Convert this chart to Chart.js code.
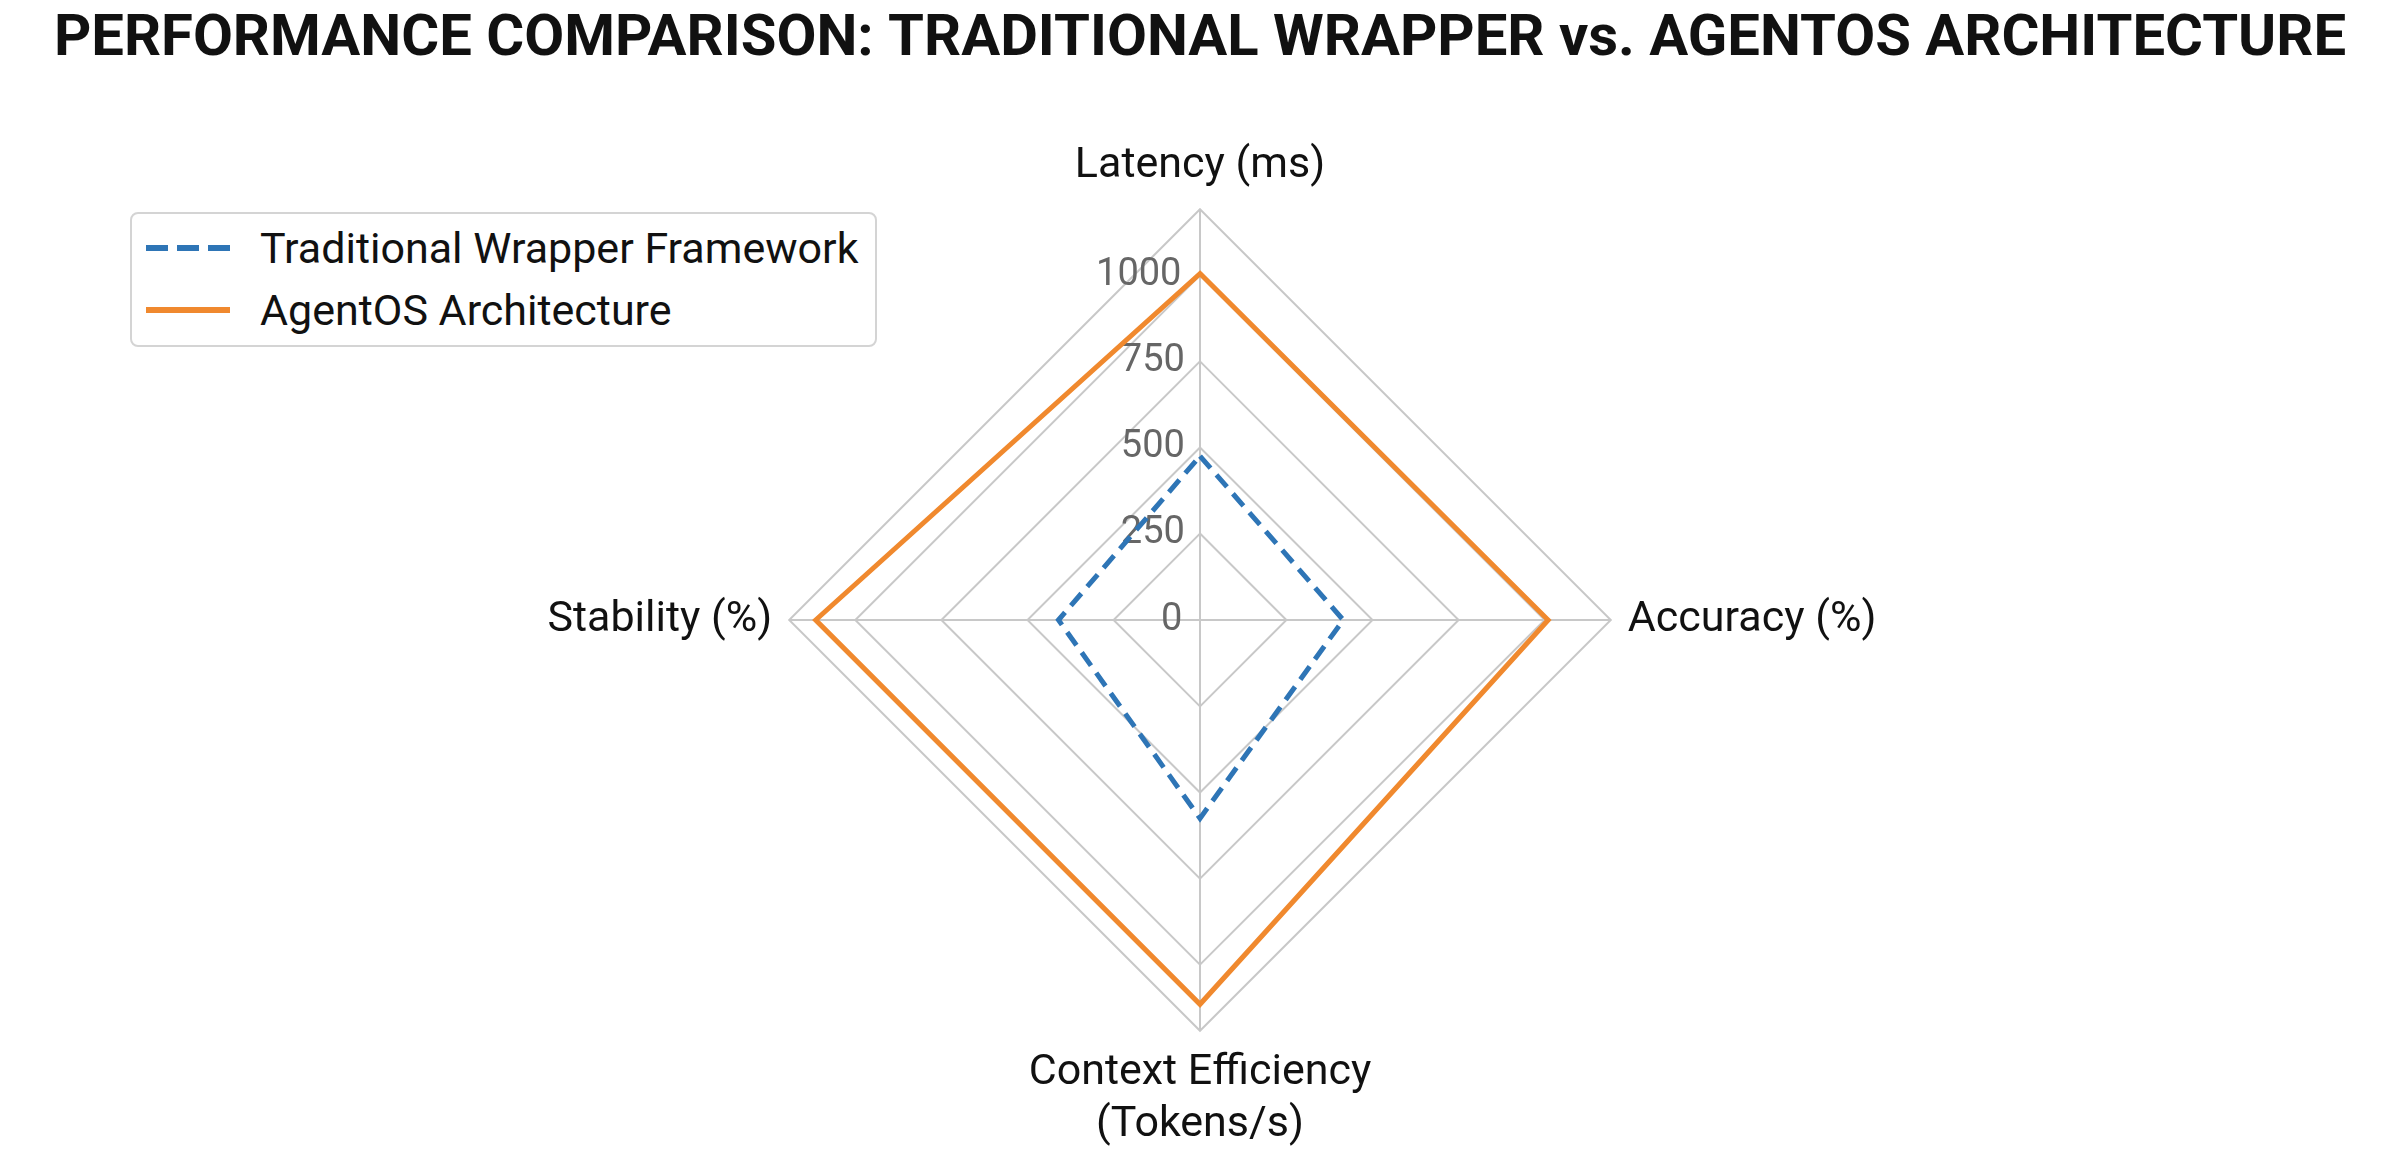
<!DOCTYPE html>
<html lang="en">
<head>
  <meta charset="UTF-8">
  <title>Performance Comparison</title>
  <script src="https://cdn.jsdelivr.net/npm/chart.js"></script>
  <style>
    html, body {
      margin: 0;
      overflow: hidden;
      background: white;
      font-family: 'Roboto', sans-serif;
    }
    /* a little taller than the window so the radar gets the radius it needs */
    .wrap {
      position: relative;
      width: 2406px;
      height: 1177px;
    }
    .legend {
      position: absolute;
      left: 130px;
      top: 212px;
      width: 747px;
      height: 135px;
      border: 2px solid #d4d4d4;
      border-radius: 8px;
      background: white;
      box-sizing: border-box;
    }
    .legend .row {
      position: absolute;
      left: 14px;
      height: 52px;
      display: flex;
      align-items: center;
      font-size: 43px;
      color: #111;
    }
    .legend .swatch {
      width: 84px;
      height: 6px;
      margin-right: 30px;
    }
  </style>
</head>
<body>
  <div class="wrap">
    <canvas id="radar"></canvas>
    <div class="legend" id="legend"></div>
  </div>

  <script type="text/javascript">
    const axes = ['Latency (ms)', 'Accuracy (%)', ['Context Efficiency', '(Tokens/s)'], 'Stability (%)'];
    const traditional = [475, 415, 575, 410];
    const agentos = [1005, 1010, 1115, 1115];
    const tickValues = [0, 250, 500, 750, 1000];
    const seriesNames = ['Traditional Wrapper Framework', 'AgentOS Architecture'];

    const blue = '#2e75b6';
    const orange = '#f0892e';

    // tick labels sit just left of the vertical axis, pad with spaces to push them over
    const meas = document.createElement('canvas').getContext('2d');
    meas.font = '38px Roboto';
    function padLabel(txt) {
      const w = meas.measureText(txt).width;
      const sp = meas.measureText(' ').width;
      return txt + ' '.repeat(Math.round((w + 34) / sp));
    }

    new Chart(document.getElementById('radar'), {
      type: 'radar',
      data: {
        labels: axes,
        datasets: [{
          label: seriesNames[0],
          data: traditional,
          borderColor: blue,
          borderWidth: 5,
          borderDash: [16, 9],
          fill: false,
          pointRadius: 0
        }, {
          label: seriesNames[1],
          data: agentos,
          borderColor: orange,
          borderWidth: 5,
          fill: false,
          pointRadius: 0
        }]
      },
      options: {
        responsive: true,
        maintainAspectRatio: false,
        animation: false,
        layout: { padding: { right: 6 } },
        plugins: {
          legend: { display: false },
          tooltip: { enabled: false },
          title: {
            display: true,
            text: 'PERFORMANCE COMPARISON: TRADITIONAL WRAPPER vs. AGENTOS ARCHITECTURE',
            color: '#111',
            font: { family: 'Roboto', size: 58, weight: 'bold' },
            padding: { top: 6, bottom: 41 }
          }
        },
        scales: {
          r: {
            min: -1,
            max: 1192,
            afterBuildTicks: (scale) => {
              scale.ticks = [scale.min, ...tickValues.slice(1), scale.max].map(v => ({ value: v }));
            },
            grid: { color: '#c8c8c8', lineWidth: 2 },
            angleLines: { color: '#c8c8c8', lineWidth: 2 },
            ticks: {
              showLabelBackdrop: false,
              color: '#666',
              font: { family: 'Roboto', size: 38 },
              callback: (v) => {
                if (v < 1) return padLabel('0');
                if (v > tickValues[tickValues.length - 1]) return '';
                return padLabel(String(v));
              }
            },
            pointLabels: {
              color: '#111',
              padding: -4,
              font: { family: 'Roboto', size: 43 }
            }
          }
        }
      }
    });

    // legend box, top left
    const legend = document.getElementById('legend');
    const swatches = [
      `repeating-linear-gradient(to right, ${blue} 0 22px, transparent 22px 31px)`,
      orange
    ];
    seriesNames.forEach((name, i) => {
      const row = document.createElement('div');
      row.className = 'row';
      row.style.top = (8 + i * 62) + 'px';
      row.innerHTML = `<span class="swatch" style="background:${swatches[i]}"></span>${name}`;
      legend.appendChild(row);
    });
  </script>
</body>
</html>
